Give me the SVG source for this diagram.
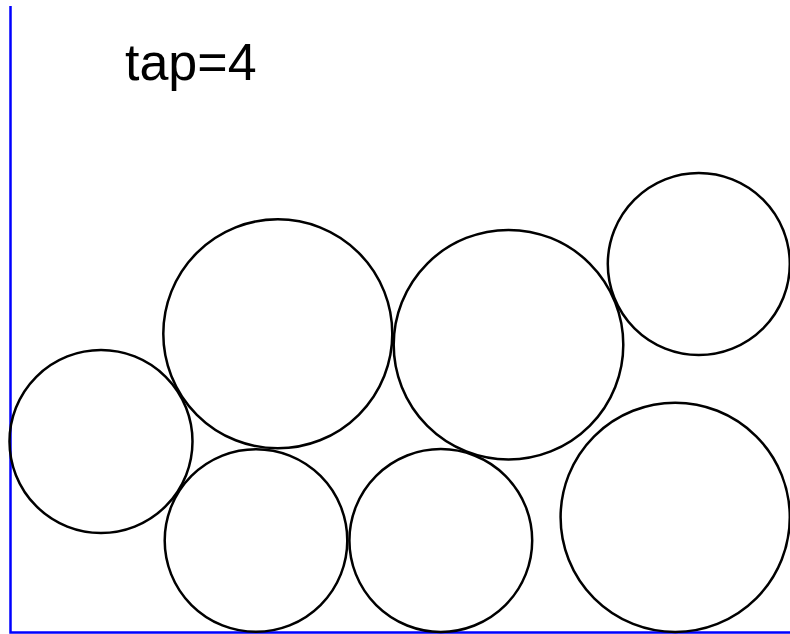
<svg xmlns="http://www.w3.org/2000/svg" width="790" height="634" viewBox="0 0 790 634">
<style>
.c{fill:none;stroke:#000;stroke-width:2.5}
.ax{stroke:#0000ff;stroke-width:2.5;fill:none}
text{font-family:"Liberation Sans",Arial,sans-serif;font-size:52px;fill:#000}
</style>
<rect width="790" height="634" fill="#fff"/>
<g id="axes">
<path class="ax" d="M10.5,6 V632.5 H790"/>
</g>
<text x="125" y="80">tap=4</text>
<g id="c1"><circle class="c" cx="101" cy="441.5" r="91.5"/></g>
<g id="c2"><circle class="c" cx="277.8" cy="333.8" r="114.5"/></g>
<g id="c3"><circle class="c" cx="508.5" cy="344.7" r="114.8"/></g>
<g id="c4"><circle class="c" cx="698.8" cy="264" r="91"/></g>
<g id="c5"><circle class="c" cx="256" cy="540.5" r="91.3"/></g>
<g id="c6"><circle class="c" cx="440.8" cy="540.5" r="91.4"/></g>
<g id="c7"><circle class="c" cx="675.2" cy="517.3" r="114.6"/></g>
</svg>
